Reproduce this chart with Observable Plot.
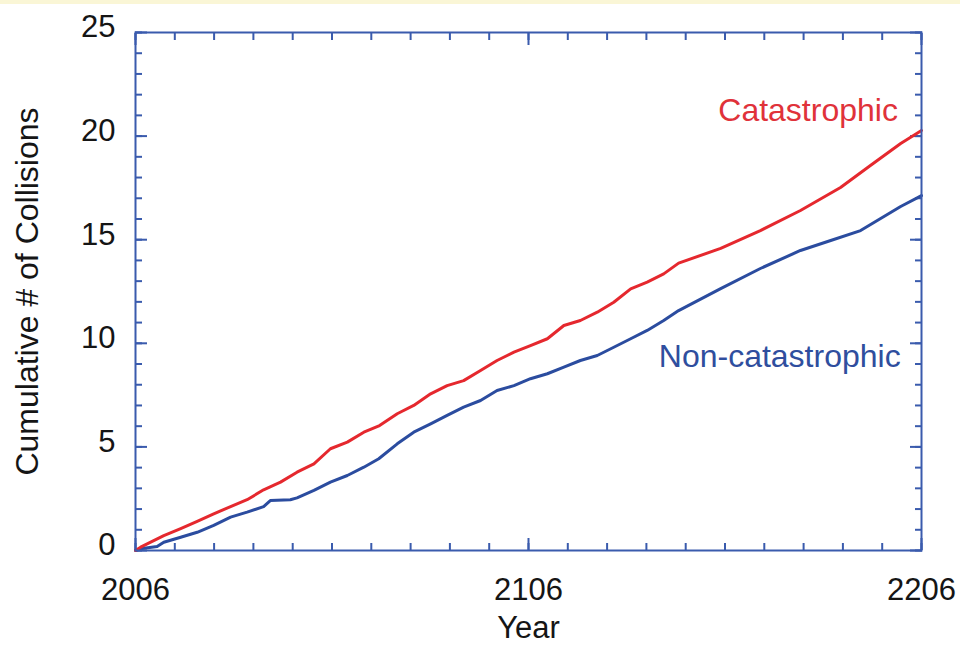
<!DOCTYPE html>
<html>
<head>
<meta charset="utf-8">
<script src="https://cdn.jsdelivr.net/npm/d3@7"></script>
<script src="https://cdn.jsdelivr.net/npm/@observablehq/plot@0.6"></script>
<style>
  html, body { margin: 0; padding: 0; background: #ffffff; }
  #band { height: 4px; background: #faf6d6; }
  #chart svg { display: block; }
</style>
</head>
<body>
<div id="band"></div>
<div id="chart"></div>
<script>
// Cumulative number of collisions, catastrophic and non-catastrophic
const catYears = [2006, 2007.3, 2013.2, 2017.5, 2021.7, 2025.9, 2030.2, 2034.4, 2038.6, 2042.9,
  2047.1, 2051.4, 2055.6, 2059.9, 2064.1, 2068.1, 2072.6, 2076.8, 2081.1, 2085.3,
  2089.5, 2093.8, 2098.0, 2102.3, 2106.5, 2110.8, 2115.0, 2119.2, 2123.5, 2127.7,
  2132.0, 2136.2, 2140.4, 2144.2, 2154.9, 2165.0, 2175.2, 2185.4, 2193.0, 2200.7, 2206];
const catValues = [0, 0.16, 0.72, 1.06, 1.41, 1.77, 2.12, 2.45, 2.93, 3.30,
  3.78, 4.18, 4.91, 5.23, 5.71, 6.03, 6.60, 7.00, 7.56, 7.96,
  8.20, 8.69, 9.17, 9.57, 9.89, 10.22, 10.86, 11.10, 11.50, 11.98,
  12.63, 12.95, 13.35, 13.87, 14.58, 15.44, 16.41, 17.52, 18.58, 19.64, 20.27];

const nonYears = [2006, 2007.3, 2011.5, 2013.2, 2017.5, 2021.7, 2025.9, 2030.2, 2034.4, 2038.6,
  2040.3, 2045.4, 2047.1, 2051.4, 2055.6, 2059.9, 2064.1, 2067.9, 2072.6, 2076.8,
  2081.1, 2085.3, 2089.5, 2093.8, 2098.0, 2102.3, 2106.5, 2110.8, 2115.0, 2119.2,
  2123.5, 2127.7, 2132.0, 2136.2, 2140.4, 2144.2, 2154.9, 2165.0, 2175.2, 2182.9,
  2190.5, 2195.6, 2200.7, 2206];
const nonValues = [0, 0.08, 0.19, 0.40, 0.64, 0.88, 1.21, 1.61, 1.85, 2.12,
  2.41, 2.45, 2.54, 2.90, 3.30, 3.62, 4.02, 4.43, 5.15, 5.71,
  6.11, 6.52, 6.92, 7.24, 7.72, 7.96, 8.29, 8.53, 8.85, 9.17,
  9.41, 9.81, 10.22, 10.62, 11.10, 11.58, 12.64, 13.61, 14.48, 14.96,
  15.44, 16.02, 16.60, 17.13];

// Axis ticks
const xTickLabels = [2006, 2106, 2206];
const xMinorTicks = d3.range(2006, 2207, 10);
const yTickLabels = [0, 5, 10, 15, 20, 25];
const yMinorTicks = d3.range(0, 26, 1);

const catTable = catYears.map((year, i) => ({year, value: catValues[i]}));
const nonTable = nonYears.map((year, i) => ({year, value: nonValues[i]}));

const red = "#e5282e";
const blue = "#2b4c9f";
const frameBlue = "#3a5bad";
const ink = "#151515";
const font = "'Liberation Sans', Arial, Helvetica, sans-serif";

const inwardTicks = (axis, anchor, ticks, size) =>
  axis({anchor, ticks, tickSize: -size, stroke: frameBlue, strokeWidth: 2, fill: "none", label: null});

const chart = Plot.plot({
  width: 960,
  height: 646,
  marginLeft: 135,
  marginRight: 39,
  marginTop: 28,
  marginBottom: 100,
  style: {fontFamily: font, background: "#ffffff", color: ink},
  x: {domain: [2006, 2206]},
  y: {domain: [0, 25]},
  marks: [
    // minor and major inward ticks on all four sides
    inwardTicks(Plot.axisX, "bottom", xMinorTicks, 7),
    inwardTicks(Plot.axisX, "top", xMinorTicks, 7),
    inwardTicks(Plot.axisX, "bottom", xTickLabels, 12),
    inwardTicks(Plot.axisX, "top", xTickLabels, 12),
    inwardTicks(Plot.axisY, "left", yMinorTicks, 7),
    inwardTicks(Plot.axisY, "right", yMinorTicks, 7),
    inwardTicks(Plot.axisY, "left", yTickLabels, 12),
    inwardTicks(Plot.axisY, "right", yTickLabels, 12),
    // tick labels
    Plot.axisX({anchor: "bottom", ticks: xTickLabels, tickSize: 0, tickPadding: 27,
      tickFormat: d => `${d}`, fontSize: 31, fill: ink, label: null}),
    Plot.axisY({anchor: "left", ticks: yTickLabels, tickSize: 0, tickPadding: 20,
      tickFormat: d => `${d}`, fontSize: 31, fill: ink, dy: -5, label: null}),
    // axis titles
    Plot.text(["Year"], {text: d => d, frameAnchor: "bottom", dy: 87, fontSize: 31, fill: ink}),
    Plot.text(["Cumulative # of Collisions"], {text: d => d, frameAnchor: "left", dx: -108,
      rotate: -90, textAnchor: "middle", fontSize: 32, fill: ink}),
    // series
    Plot.line(nonTable, {x: "year", y: "value", stroke: blue, strokeWidth: 3}),
    Plot.line(catTable, {x: "year", y: "value", stroke: red, strokeWidth: 3}),
    Plot.text(["Catastrophic"], {text: d => d, x: 2200, y: 21.2, textAnchor: "end",
      fontSize: 32, fill: "#e0323a"}),
    Plot.text(["Non-catastrophic"], {text: d => d, x: 2200.7, y: 9.36, textAnchor: "end",
      fontSize: 32, fill: "#2f4e9e"}),
    Plot.frame({stroke: frameBlue, strokeWidth: 2})
  ]
});

document.getElementById("chart").appendChild(chart);
</script>
</body>
</html>
